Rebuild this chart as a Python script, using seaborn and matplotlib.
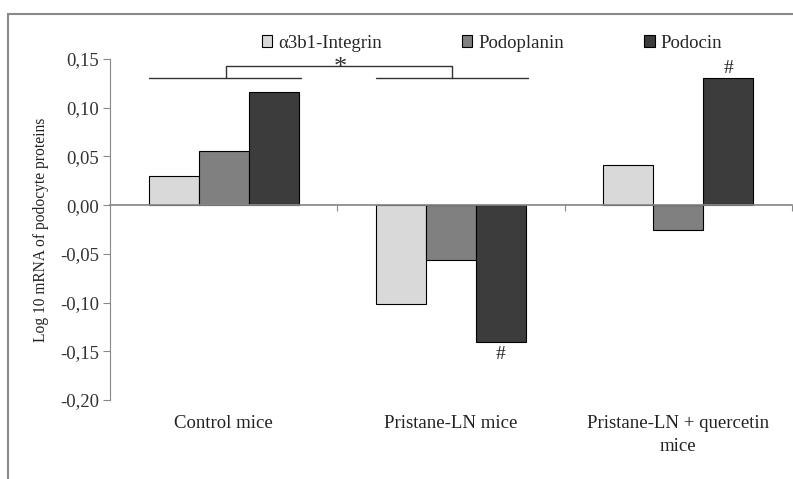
import numpy as np
import pandas as pd
import matplotlib
matplotlib.use('Agg')
import matplotlib.pyplot as plt
import matplotlib.transforms as mtransforms
from matplotlib.patches import Rectangle
from matplotlib.ticker import FuncFormatter, FixedLocator
import seaborn as sns

sns.set_theme(style='white')
plt.rcParams['font.family'] = ['Liberation Serif', 'DejaVu Serif']

# values (log10 mRNA)
groups = ['Control mice', 'Pristane-LN mice', 'Pristane-LN + quercetin\nmice']
proteins = ['\u03b13b1-Integrin', 'Podoplanin', 'Podocin']
integrin = [0.030, -0.101, 0.041]
podoplanin = [0.056, -0.056, -0.026]
podocin = [0.116, -0.140, 0.131]
colors = ['#d9d9d9', '#808080', '#3c3c3c']
yticks = [-0.20, -0.15, -0.10, -0.05, 0.00, 0.05, 0.10, 0.15]

df = pd.DataFrame({
    'group': groups * 3,
    'protein': np.repeat(proteins, 3),
    'value': integrin + podoplanin + podocin,
})

fig = plt.figure(figsize=(7.93, 4.79), dpi=100)
# outer frame of the original figure
fig.patches.append(Rectangle((8 / 793, -0.1), 1.2, 1.1 - 14 / 479, transform=fig.transFigure,
                             fill=False, edgecolor='#8a8a8a', linewidth=1.5))
ax = fig.add_axes([110 / 793, 1 - 400 / 479, 682 / 793, 341 / 479])

bar_w = 0.66
sns.barplot(data=df, x='group', y='value', hue='protein', palette=colors,
            width=bar_w, edgecolor='black', linewidth=0.8, ax=ax)

ax.set_ylim(-0.20, 0.15)
ax.set_xlim(-0.5, 2.5)
ax.set_yticks(yticks)
ax.yaxis.set_major_formatter(FuncFormatter(lambda v, p: f'{v:.2f}'.replace('.', ',')))
ax.tick_params(axis='y', direction='out', length=5, width=0.8, color='#888888',
               labelsize=13.5, labelcolor='#333333', left=True, pad=3)

# zero line with category separators
for s in ['top', 'right']:
    ax.spines[s].set_visible(False)
ax.spines['bottom'].set_position(('data', 0))
ax.spines['bottom'].set_color('#888888')
ax.spines['left'].set_color('#888888')
ax.spines['left'].set_linewidth(0.8)
ax.xaxis.set_major_locator(FixedLocator([0.5, 1.5, 2.5]))
ax.set_xticklabels([])
ax.tick_params(axis='x', direction='out', length=4, width=0.8, color='#888888', bottom=True)
ax.set_xlabel('')
ax.set_ylabel('Log 10 mRNA of podocyte proteins', fontsize=11.2, color='#222222', labelpad=8)

trans = mtransforms.blended_transform_factory(ax.transData, ax.transAxes)
for i, g in enumerate(groups):
    ax.text(i, -0.045, g, transform=trans, ha='center', va='top', fontsize=13.5,
            color='#222222', linespacing=1.4)

# significance marks
sub = bar_w / 3
y_line, y_top = 0.1304, 0.1427
for i in [0, 1]:
    ax.plot([i - bar_w / 2, i + bar_w / 2 + 0.01], [y_line, y_line], color='#333333', lw=1, clip_on=False)
ax.plot([0.01, 0.01, 1.006, 1.006], [y_line, y_top, y_top, y_line], color='#333333', lw=1, clip_on=False)
ax.text(0.513, 0.141, '*', ha='center', va='center', fontsize=19, color='#333333')
ax.text(2 + sub, podocin[2] + 0.001, '#', ha='center', va='bottom', fontsize=14, color='#222222')
ax.text(1 + sub, podocin[1] - 0.005, '#', ha='center', va='top', fontsize=14, color='#222222')

ax.legend(loc='center', bbox_to_anchor=(0.56, 1 + 16 / 341), ncol=3, frameon=False,
          handlelength=0.55, handleheight=0.55, handletextpad=0.3, columnspacing=4.3,
          fontsize=13.5, borderaxespad=0)

fig.savefig('out.png', dpi=100)
